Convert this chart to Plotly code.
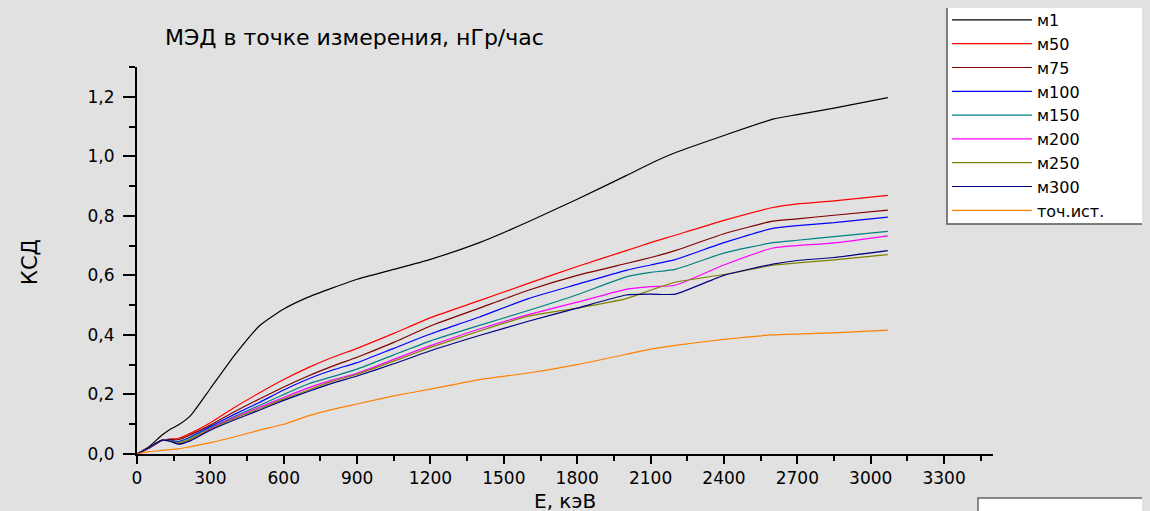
import plotly.graph_objects as go

energy = [0, 50, 100, 130, 170, 220, 300, 400, 500, 600, 700, 800, 900, 1050, 1200,
          1400, 1600, 1800, 2000, 2100, 2200, 2400, 2600, 2700, 2850, 3070]

m1 = [0, 0.025, 0.062, 0.08, 0.098, 0.13, 0.22, 0.333, 0.43, 0.487, 0.527, 0.558, 0.587,
      0.62, 0.654, 0.71, 0.78, 0.856, 0.935, 0.976, 1.012, 1.07, 1.125, 1.14, 1.162, 1.197]
m50 = [0, 0.02, 0.045, 0.05, 0.053, 0.07, 0.105, 0.157, 0.205, 0.25, 0.29, 0.325, 0.355,
       0.405, 0.458, 0.515, 0.573, 0.63, 0.683, 0.71, 0.735, 0.785, 0.828, 0.84, 0.85, 0.869]
m75 = [0, 0.02, 0.045, 0.049, 0.048, 0.065, 0.097, 0.143, 0.185, 0.225, 0.262, 0.295, 0.325,
       0.375, 0.43, 0.49, 0.55, 0.6, 0.64, 0.66, 0.683, 0.74, 0.782, 0.79, 0.802, 0.819]
m100 = [0, 0.022, 0.046, 0.047, 0.042, 0.058, 0.092, 0.134, 0.173, 0.215, 0.252, 0.282, 0.307,
        0.355, 0.403, 0.46, 0.522, 0.57, 0.617, 0.635, 0.653, 0.71, 0.758, 0.767, 0.777, 0.796]
m150 = [0, 0.022, 0.046, 0.046, 0.04, 0.056, 0.088, 0.127, 0.163, 0.2, 0.235, 0.26, 0.285,
        0.333, 0.38, 0.432, 0.482, 0.535, 0.595, 0.61, 0.62, 0.675, 0.71, 0.718, 0.73, 0.748]
m200 = [0, 0.022, 0.046, 0.045, 0.035, 0.05, 0.085, 0.123, 0.157, 0.19, 0.222, 0.249, 0.271,
        0.318, 0.364, 0.42, 0.468, 0.51, 0.553, 0.562, 0.567, 0.635, 0.692, 0.7, 0.709, 0.733]
m250 = [0, 0.022, 0.046, 0.045, 0.036, 0.05, 0.083, 0.12, 0.152, 0.185, 0.215, 0.245, 0.268,
        0.312, 0.358, 0.413, 0.463, 0.49, 0.522, 0.55, 0.577, 0.603, 0.634, 0.642, 0.652, 0.670]
m300 = [0, 0.022, 0.046, 0.044, 0.033, 0.045, 0.08, 0.115, 0.147, 0.18, 0.21, 0.238, 0.262,
        0.303, 0.347, 0.398, 0.446, 0.49, 0.534, 0.537, 0.537, 0.6, 0.638, 0.65, 0.66, 0.683]
point_src = [0, 0.008, 0.012, 0.014, 0.017, 0.025, 0.038, 0.058, 0.08, 0.1, 0.128, 0.15, 0.168,
             0.195, 0.218, 0.25, 0.272, 0.3, 0.335, 0.352, 0.365, 0.385, 0.4, 0.403, 0.407, 0.416]

series_names = ["м1", "м50", "м75", "м100", "м150", "м200", "м250", "м300", "точ.ист."]
series_values = [m1, m50, m75, m100, m150, m200, m250, m300, point_src]
series_colors = ["#000000", "#ff0000", "#800000", "#0000ff", "#008080",
                 "#ff00ff", "#808000", "#000080", "#ff8000"]

x_ticks = [0, 300, 600, 900, 1200, 1500, 1800, 2100, 2400, 2700, 3000, 3300]
y_ticks = [0.0, 0.2, 0.4, 0.6, 0.8, 1.0, 1.2]

FONT = "DejaVu Sans, Arial, sans-serif"
BG = "#e1e1e1"

fig = go.Figure()
for name, vals, col in zip(series_names, series_values, series_colors):
    fig.add_trace(go.Scatter(
        x=energy, y=vals, name=name, mode="lines",
        line=dict(color=col, width=1.2, shape="spline", smoothing=0.5),
    ))

# the page body adds an 8px offset; margins compensate so the plot area sits at 137..993 x 67..454
fig.update_layout(
    width=1150, height=511,
    margin=dict(l=129, r=165, t=59, b=65, autoexpand=False),
    paper_bgcolor=BG,
    plot_bgcolor=BG,
    separators=", ",
    font=dict(family=FONT, size=16, color="#000000"),
    showlegend=True,
    legend=dict(
        xref="paper", yref="paper",
        x=(947 - 137) / 856, y=(454 - 3) / 387, xanchor="left", yanchor="top",
        bgcolor="rgba(0,0,0,0)", borderwidth=0,
        font=dict(family=FONT, size=16, color="#000000"),
        traceorder="normal",
        itemwidth=80,
    ),
)

# legend frame (wider than plotly's auto-sized box, as in the reference)
fig.add_shape(
    type="rect", xref="paper", yref="paper",
    x0=(947 - 137) / 856, x1=(1148 - 137) / 856,
    y0=(454 - 224) / 387, y1=(454 - 5) / 387,
    line=dict(color="#555555", width=1.5), fillcolor="#ffffff", layer="above",
)

fig.update_xaxes(
    range=[0, 3500], autorange=False,
    showgrid=False, zeroline=False,
    showline=True, linecolor="#000000", linewidth=2,
    tickmode="array", tickvals=x_ticks, ticktext=[str(v) for v in x_ticks],
    ticks="outside", ticklen=8, tickwidth=2, tickcolor="#000000",
    tickfont=dict(family=FONT, size=17),
    minor=dict(dtick=150, tick0=0, ticks="outside", ticklen=5, tickwidth=1.5, tickcolor="#000000", showgrid=False),
)
fig.update_yaxes(
    range=[0, 1.3], autorange=False,
    showgrid=False, zeroline=False,
    showline=True, linecolor="#000000", linewidth=2,
    tickmode="array", tickvals=y_ticks, ticktext=[f"{v:.1f}".replace(".", ",") for v in y_ticks],
    ticks="outside", ticklen=12, tickwidth=2, tickcolor="#000000",
    tickfont=dict(family=FONT, size=17),
    ticklabelstandoff=5,
    minor=dict(dtick=0.1, tick0=0, ticks="outside", ticklen=6, tickwidth=1.5, tickcolor="#000000", showgrid=False),
)

fig.add_annotation(
    text="МЭД в точке измерения, нГр/час",
    xref="paper", yref="paper", x=(163 - 137) / 856, y=(454 - 38) / 387,
    xanchor="left", yanchor="middle", showarrow=False,
    font=dict(family=FONT, size=22, color="#000000"),
)
fig.add_annotation(
    text="E, кэВ",
    xref="paper", yref="paper", x=(565 - 137) / 856, y=(454 - 501) / 387,
    xanchor="center", yanchor="middle", showarrow=False,
    font=dict(family=FONT, size=20, color="#000000"),
)
fig.add_annotation(
    text="КСД",
    xref="paper", yref="paper", x=(30 - 137) / 856, y=(454 - 262) / 387,
    xanchor="center", yanchor="middle", textangle=-90, showarrow=False,
    font=dict(family=FONT, size=21, color="#000000"),
)

fig.add_shape(
    type="rect", xref="paper", yref="paper",
    x0=(978 - 137) / 856, x1=(1148 - 137) / 856,
    y0=(454 - 520) / 387, y1=(454 - 498) / 387,
    line=dict(color="#666666", width=1.5), fillcolor="#ffffff", layer="above",
)

fig.write_html("out.html", post_script="document.body.style.background='%s';" % BG)
